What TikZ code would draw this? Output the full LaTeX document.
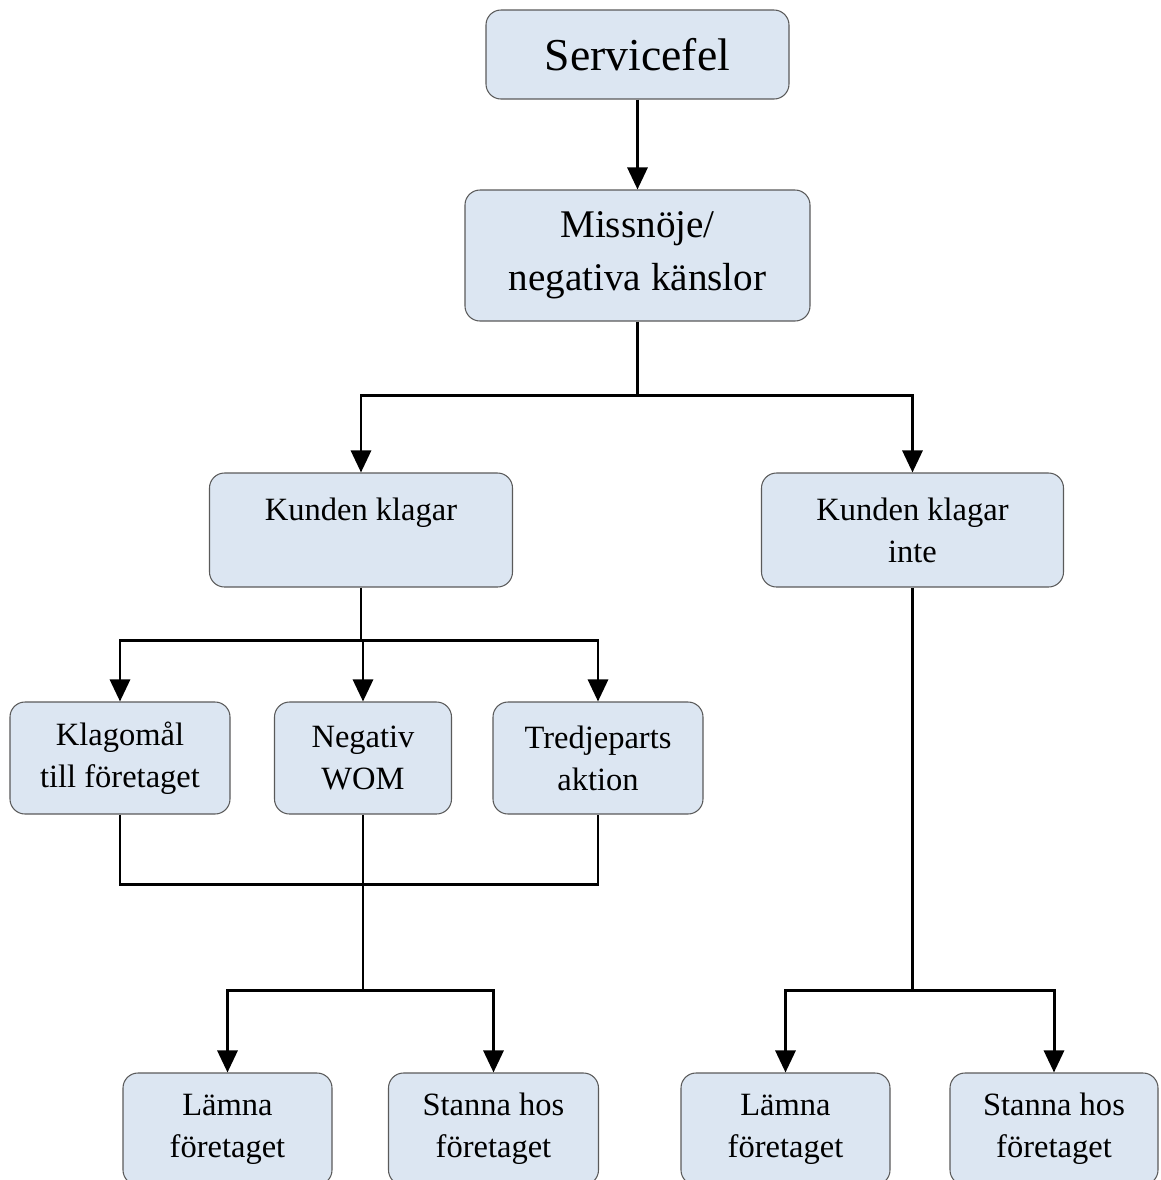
\documentclass[tikz,border=0pt]{standalone}
\usepackage{fontspec}
\setmainfont{Liberation Serif}
\usepackage{tikz}
\usetikzlibrary{arrows.meta}
\definecolor{boxblue}{RGB}{220,230,242}
\definecolor{boxline}{RGB}{90,90,90}
\newcommand{\midsize}{\fontsize{18.5}{24}\selectfont}

\begin{document}
\begin{tikzpicture}[
    box/.style={draw=boxline, line width=0.6pt, fill=boxblue, rounded corners=0.3cm,
      align=center, inner sep=0pt, font=\midsize},
    link/.style={black, line width=1.7pt},
    arrow/.style={link, -{Triangle[width=0.4cm,length=0.44cm]}}
  ]
    \useasboundingbox (0,0) rectangle (23.22,-23.6);

    \node[box, minimum width=6.06cm, minimum height=1.78cm, font=\fontsize{26}{31}\selectfont] (1) at (12.75,-1.09) {Servicefel};
    \node[box, minimum width=6.9cm, minimum height=2.62cm, font=\fontsize{22.3}{30}\selectfont] (2) at (12.75,-5.11) {Missnöje/\\negativa känslor};

    \node[box, minimum width=6.06cm, minimum height=2.28cm] (3) at (7.22,-10.6) {Kunden klagar\\~};
    \node[box, minimum width=6.04cm, minimum height=2.28cm] (4) at (18.25,-10.6) {Kunden klagar\\inte};

    \node[box, minimum width=4.4cm, minimum height=2.24cm] (5) at (2.40,-15.16) {Klagomål\\till företaget};
    \node[box, minimum width=3.54cm, minimum height=2.24cm] (6) at (7.26,-15.16) {Negativ\\WOM};
    \node[box, minimum width=4.2cm, minimum height=2.24cm] (7) at (11.96,-15.16) {Tredjeparts\\aktion};

    \node[box, minimum width=4.18cm, minimum height=2.24cm] (8) at (4.55,-22.58) {Lämna\\företaget};
    \node[box, minimum width=4.2cm, minimum height=2.24cm] (9) at (9.87,-22.58) {Stanna hos\\företaget};
    \node[box, minimum width=4.18cm, minimum height=2.24cm] (10) at (15.71,-22.58) {Lämna\\företaget};
    \node[box, minimum width=4.16cm, minimum height=2.24cm] (11) at (21.08,-22.58) {Stanna hos\\företaget};

    % junctions
    \coordinate (a) at (12.82,-7.9);
    \coordinate (b) at (7.26,-12.8);
    \coordinate (c) at (7.26,-17.68);
    \coordinate (d) at (7.26,-19.8);
    \coordinate (e) at (18.25,-19.8);

    \draw[arrow] (1) -- (2);

    \draw[link] (2) -- (2 |- a);
    \draw[arrow] (2 |- a) -| (3);
    \draw[arrow] (2 |- a) -| (4);

    \draw[link] (3) -- (3 |- b);
    \draw[arrow] (b) -| (5);
    \draw[arrow] (b) -- (6);
    \draw[arrow] (b) -| (7);

    \draw[link] (5) |- (c) -| (7);
    \draw[link] (6) -- (d);
    \draw[arrow] (d) -| (8);
    \draw[arrow] (d) -| (9);

    \draw[link] (4) -- (e);
    \draw[arrow] (e) -| (10);
    \draw[arrow] (e) -| (11);
  \end{tikzpicture}
\end{document}
